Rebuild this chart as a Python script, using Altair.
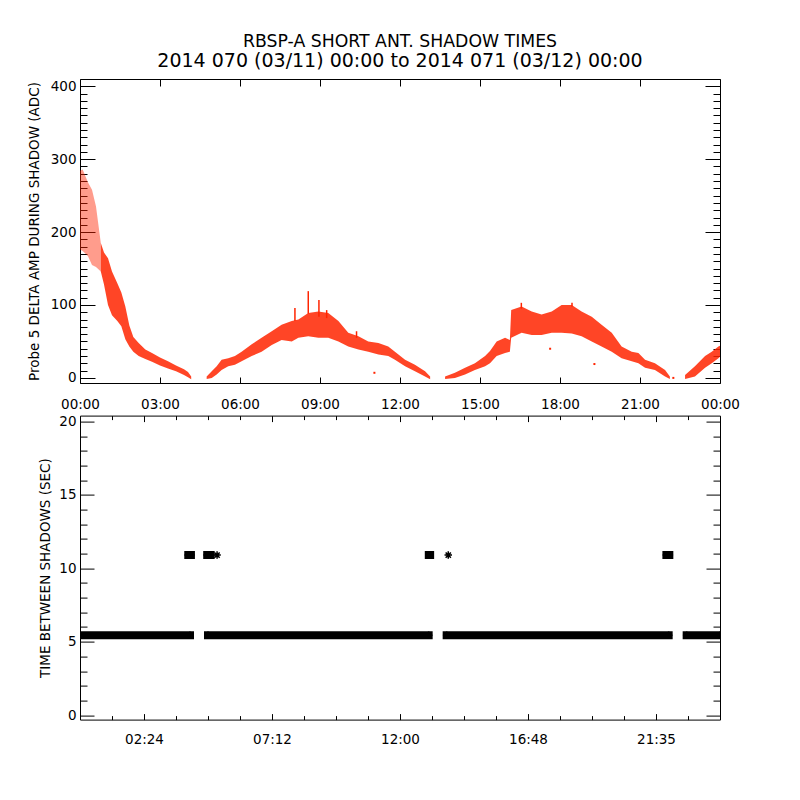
import altair as alt
import pandas as pd

FONT = "DejaVu Sans"
RED = "#ff2400"

# ---------------- top panel: Probe 5 delta amplitude cloud (envelope per time) ----------------
# time in hours of day, lo / hi edges of the scattered cloud in ADC
segA1_t = [0.0, 0.1, 0.3, 0.45, 0.6, 0.78]
segA1_lo = [176, 174, 167, 155, 152, 146]
segA1_hi = [284, 286, 268, 258, 235, 185]

segA2_t = [0.78, 0.9, 1.05, 1.2, 1.4, 1.55, 1.7, 1.85, 2.0, 2.2, 2.45, 2.7, 3.0, 3.3, 3.6, 3.9, 4.05, 4.17]
segA2_lo = [146, 128, 100, 86, 78, 71, 53, 43, 36, 30, 26, 22, 17, 13, 9, 4, 1, -2]
segA2_hi = [185, 172, 164, 146, 130, 117, 98, 72, 56, 48, 39, 34, 28, 23, 17, 12, 8, 2]

segB_t = [4.75, 4.94, 5.125, 5.31, 5.56, 5.81, 6.06, 6.44, 6.81, 7.19, 7.56, 7.94, 8.19, 8.56,
          8.94, 9.31, 9.69, 10.06, 10.44, 10.81, 11.19, 11.56, 11.81, 12.19, 12.56, 12.94, 13.13]
segB_lo = [-1.5, 0, 4.5, 11, 16, 18, 23, 30, 36, 45, 52, 50, 55, 57,
           55, 55, 50, 43, 39, 36, 32, 30, 25, 16, 9, 2, -2]
segB_hi = [2, 9, 16, 25, 27, 30, 36, 46, 55, 64, 73, 78, 80, 89,
           91, 89, 78, 62, 57, 50, 48, 43, 36, 25, 18, 9, 2]

segC_t = [13.69, 14.06, 14.44, 14.81, 15.19, 15.375, 15.625, 15.94, 16.12, 16.17, 16.56, 16.94, 17.31, 17.69,
          18.06, 18.44, 18.81, 19.19, 19.56, 19.94, 20.31, 20.69, 20.94, 21.19, 21.56, 21.94, 22.12]
segC_lo = [-1.5, 0, 4.5, 11, 16, 20, 30, 34, 36, 55, 62, 59, 59, 62,
           62, 61, 57, 50, 43, 36, 27, 23, 20, 14, 11, 2, -1.5]
segC_hi = [2, 7, 14, 20, 30, 37, 50, 55, 52, 93, 98, 91, 87, 91,
           100, 100, 91, 84, 73, 62, 43, 36, 34, 25, 20, 11, 2]

segD_t = [22.69, 23.06, 23.44, 23.69, 23.94, 24.0]
segD_lo = [-1.5, 2, 14, 20, 27, 29]
segD_hi = [4, 16, 30, 36, 43, 44]

# narrow spikes above the cloud
spike_t = [8.06, 8.56, 8.96, 9.25, 10.37, 16.55, 18.45]
spike_lo = [78, 88, 84, 82, 55, 95, 98]
spike_hi = [96, 119, 107, 93, 64, 103, 103]

# isolated single readings
iso_t = [11.04, 17.63, 19.29, 22.25]
iso_v = [7, 40, 19, 0]

# ---------------- bottom panel: time between shadows ----------------
seg_t0 = [0.0, 4.8, 13.75, 22.75, 4.06, 4.77, 13.08, 21.99]
seg_t1 = [4.125, 13.075, 22.075, 24.0, 4.16, 4.90, 13.13, 22.10]
seg_v = [5.45, 5.45, 5.45, 5.45, 10.9, 10.9, 10.9, 10.9]
single_t = [5.14, 13.81]
single_v = [10.9, 10.9]

# ---------------- tick labels ----------------
top_x_vals = [0, 3, 6, 9, 12, 15, 18, 21, 24]
top_x_labels = ["00:00", "03:00", "06:00", "09:00", "12:00", "15:00", "18:00", "21:00", "00:00"]
bot_x_vals = [2.4, 7.2, 12, 16.8, 21.6]
bot_x_labels = ["02:24", "07:12", "12:00", "16:48", "21:35"]
bot_x_minor = [1.2, 3.6, 4.8, 6.0, 8.4, 9.6, 10.8, 13.2, 14.4, 15.6, 18.0, 19.2, 20.4, 22.8]
top_y_vals = [0, 100, 200, 300, 400]
top_y_minor = [v for v in range(10, 400, 10) if v % 100 != 0]
bot_y_vals = [0, 5, 10, 15, 20]
bot_y_minor = [v for v in range(1, 20) if v % 5 != 0]

# ---------------- data frames ----------------
rows = []
for name, op, ts, los, his in [("A1", 0.45, segA1_t, segA1_lo, segA1_hi),
                               ("A2", 0.85, segA2_t, segA2_lo, segA2_hi),
                               ("B", 0.85, segB_t, segB_lo, segB_hi),
                               ("C", 0.85, segC_t, segC_lo, segC_hi),
                               ("D", 0.85, segD_t, segD_lo, segD_hi)]:
    for t, lo, hi in zip(ts, los, his):
        rows.append({"seg": name, "op": op, "t": t, "lo": lo, "hi": hi})
band_df = pd.DataFrame(rows)
spike_df = pd.DataFrame({"t": spike_t, "lo": spike_lo, "hi": spike_hi})
iso_df = pd.DataFrame({"t": iso_t, "lo": iso_v})

seg_df = pd.DataFrame({"t0": seg_t0, "t1": seg_t1, "v": seg_v})
ast_t = seg_t0 + seg_t1 + single_t
ast_v = seg_v + seg_v + single_v
ast_df = pd.DataFrame({"t0": ast_t, "v": ast_v})


def label_expr(vals, labels):
    return ("[" + ",".join("'" + s + "'" for s in labels) + "][indexof(["
            + ",".join(str(v) for v in vals) + "], datum.value)]")


COMMON = dict(grid=False, domain=False, tickColor="black", tickWidth=1,
              labelFont=FONT, labelFontSize=13.5, labelColor="black",
              labelFlush=False, labelOverlap=False, labelBound=False,
              titleFont=FONT, titleFontSize=13.5, titleFontWeight="normal", titleColor="black")


def ax(orient, values, size, labels=False, **kw):
    d = dict(COMMON)
    d.update(kw)
    return alt.Axis(orient=orient, values=values, tickSize={"expr": str(-size)},
                    labels=labels, **d)


xs = alt.Scale(domain=[0, 24], nice=False, zero=False)
ys_top = alt.Scale(domain=[-7, 410], nice=False, zero=False)
ys_bot = alt.Scale(domain=[-0.3, 20.4], nice=False, zero=False)

# ---- top panel layers ----
t1 = alt.Chart(band_df).mark_area(color=RED, clip=True).encode(
    x=alt.X("t:Q", scale=xs, axis=ax("bottom", top_x_vals, 6, labels=True, title=None,
                                      labelExpr=label_expr(top_x_vals, top_x_labels),
                                      labelPadding=20)),
    y=alt.Y("lo:Q", scale=ys_top, axis=ax("left", top_y_vals, 15, labels=True,
                                           title="Probe 5 DELTA AMP DURING SHADOW (ADC)",
                                           labelPadding=19, titlePadding=9)),
    y2="hi:Q",
    opacity=alt.Opacity("op:Q", scale=None),
    detail="seg:N",
)
t2 = alt.Chart(iso_df).mark_square(color=RED, size=4, opacity=1, clip=True).encode(
    x=alt.X("t:Q", scale=xs, axis=ax("top", top_x_vals, 7, title=None)),
    y=alt.Y("lo:Q", scale=ys_top, axis=ax("left", top_y_minor, 7, title=None)),
)
t3 = alt.Chart(spike_df).mark_rule(color=RED, strokeWidth=1.5, clip=True).encode(
    x=alt.X("t:Q", scale=xs, axis=None),
    y=alt.Y("lo:Q", scale=ys_top, axis=ax("right", top_y_vals, 15, title=None)),
    y2="hi:Q",
)
t4 = alt.Chart(iso_df).mark_square(color=RED, size=4, opacity=0).encode(
    x=alt.X("t:Q", scale=xs, axis=None),
    y=alt.Y("lo:Q", scale=ys_top, axis=ax("right", top_y_minor, 7, title=None)),
)

top = alt.layer(t1, t2, t3, t4).resolve_axis(x="independent", y="independent").properties(
    width=640, height=304,
    title=alt.TitleParams(
        text="RBSP-A SHORT ANT. SHADOW TIMES",
        subtitle="2014 070 (03/11) 00:00 to 2014 071 (03/12) 00:00",
        font=FONT, fontSize=17.3, fontWeight="normal", color="black",
        subtitleFont=FONT, subtitleFontSize=19, subtitleColor="black",
        subtitlePadding=2, anchor="middle", frame="group", offset=7.6),
)

# ---- bottom panel layers ----
AST = "M-1,0L1,0M0,-1L0,1M-0.7,-0.7L0.7,0.7M-0.7,0.7L0.7,-0.7"

b1 = alt.Chart(seg_df).mark_rule(color="black", strokeWidth=8, strokeCap="square", clip=True).encode(
    x=alt.X("t0:Q", scale=xs, axis=ax("bottom", bot_x_vals, 6, labels=True, title=None,
                                       labelExpr=label_expr(bot_x_vals, bot_x_labels),
                                       labelPadding=19)),
    x2="t1:Q",
    y=alt.Y("v:Q", scale=ys_bot, axis=ax("left", bot_y_vals, 14, labels=True,
                                          title="TIME BETWEEN SHADOWS (SEC)",
                                          labelPadding=18, titlePadding=6)),
)
b2 = alt.Chart(ast_df).mark_point(shape=AST, filled=False, size=56, color="black",
                                  strokeWidth=1.5, opacity=1, clip=True).encode(
    x=alt.X("t0:Q", scale=xs, axis=ax("bottom", bot_x_minor, 4, title=None)),
    y=alt.Y("v:Q", scale=ys_bot, axis=ax("left", bot_y_minor, 7, title=None)),
)
b3 = alt.Chart(ast_df).mark_point(opacity=0).encode(
    x=alt.X("t0:Q", scale=xs, axis=ax("top", bot_x_vals, 6, title=None)),
    y=alt.Y("v:Q", scale=ys_bot, axis=ax("right", bot_y_vals, 14, title=None)),
)
b4 = alt.Chart(ast_df).mark_point(opacity=0).encode(
    x=alt.X("t0:Q", scale=xs, axis=ax("top", bot_x_minor, 4, title=None)),
    y=alt.Y("v:Q", scale=ys_bot, axis=ax("right", bot_y_minor, 7, title=None)),
)

bottom = alt.layer(b1, b2, b3, b4).resolve_axis(x="independent", y="independent").properties(
    width=640, height=304)

chart = alt.vconcat(top, bottom, spacing=2.6).properties(
    padding={"left": 18, "top": 24, "right": 10, "bottom": 10},
    background="white",
).configure_view(stroke="black", strokeWidth=1)

chart.save("out.html", embed_options={"renderer": "svg", "actions": False})
